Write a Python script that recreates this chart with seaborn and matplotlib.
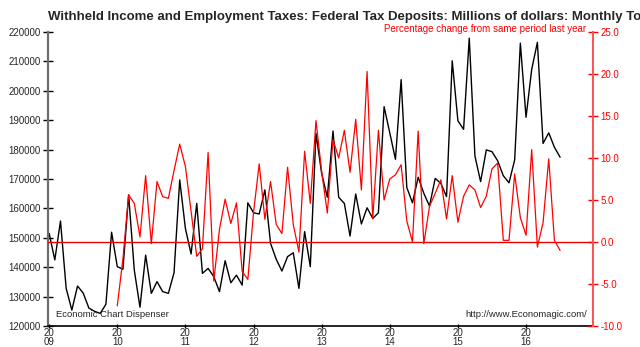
import numpy as np
import pandas as pd
import matplotlib
matplotlib.use("Agg")
import matplotlib.pyplot as plt
import seaborn as sns

# Monthly withheld income and employment tax deposits, Jan 2009 - Jul 2016 (millions of dollars)
deposits = [
    151500, 142500, 155700, 132800, 125400, 133600, 131200, 126100, 125000, 124300, 127400, 151900,
    140200, 139300, 164600, 139000, 126400, 144100, 131100, 135100, 131700, 131100, 138100, 169700,
    153200, 144500, 161700, 137900, 139600, 136800, 131700, 142200, 134700, 137300, 133900, 161900,
    158500, 158100, 166300, 148100, 142700, 138700, 143600, 144900, 132800, 152100, 140200, 185500,
    171900, 163800, 186300, 163800, 161700, 150600, 164900, 154700, 160200, 156600, 158500, 194600,
    185700, 176700, 203800, 167100, 161900, 170600, 165100, 160800, 170200, 168500, 164000, 210200,
    189800, 186900, 217900, 177800, 169100, 179900, 179300, 176200, 171100, 168700, 176500, 216200,
    191000, 207300, 216500, 182100, 185700, 180800, 177400,
]

# Percentage change from same month a year earlier, Jan 2010 - Jul 2016
pct_change = [
    -7.6, -2.0, 5.6, 4.6, 0.6, 7.9, -0.2, 7.2, 5.4, 5.2, 8.5, 11.65,
    9.0, 3.65, -1.7, -0.8, 10.65, -4.65, 1.5, 5.1, 2.2, 4.65, -3.5, -4.45,
    3.5, 9.3, 2.7, 7.2, 2.1, 1.0, 8.9, 2.1, -1.2, 10.8, 4.6, 14.45,
    8.4, 3.45, 12.2, 10.0, 13.3, 8.3, 14.6, 6.2, 20.3, 2.75, 13.3, 5.0,
    7.5, 8.0, 9.2, 2.5, 0.0, 13.2, -0.2, 4.25, 5.8, 7.4, 2.75, 7.9,
    2.35, 5.45, 6.8, 6.2, 4.1, 5.45, 8.7, 9.4, 0.2, 0.2, 8.1, 2.9,
    0.8, 11.0, -0.6, 2.3, 9.9, 0.2, -1.0,
]

years = list(range(2009, 2017))
year_labels = [f"{str(y)[:2]}\n{str(y)[2:]}" for y in years]
left_ticks = list(range(120000, 220001, 10000))
right_ticks = [-10.0, -5.0, 0.0, 5.0, 10.0, 15.0, 20.0, 25.0]

df_dep = pd.DataFrame({"month": np.arange(len(deposits)), "value": deposits})
df_pct = pd.DataFrame({"month": np.arange(12, 12 + len(pct_change)), "value": pct_change})

sns.set_style("white")
plt.rcParams["font.family"] = ["Liberation Sans", "DejaVu Sans"]

fig = plt.figure(figsize=(6.4, 3.47), dpi=100)
ax = fig.add_axes([0.075, 0.0605, 0.8516, 0.8473])
ax2 = ax.twinx()

sns.lineplot(data=df_dep, x="month", y="value", ax=ax, color="black", lw=1.0)
ax2.axhline(0, color="#ee0000", lw=1.0)
sns.lineplot(data=df_pct, x="month", y="value", ax=ax2, color="#ff0000", lw=0.9)

ax.set_xlim(-0.2, 95.8)
ax.set_ylim(120000, 220000)
ax2.set_ylim(-10, 25)

ax.set_xticks([12 * i for i in range(len(years))])
ax.set_xticklabels(year_labels, fontsize=7, linespacing=0.85)
ax.set_yticks(left_ticks)
ax.set_yticklabels([str(v) for v in left_ticks], fontsize=7)
ax2.set_yticks(right_ticks)
ax2.set_yticklabels([f"{v:.1f}" for v in right_ticks], fontsize=7, color="#ff0000")

for a in (ax, ax2):
    a.set_xlabel("")
    a.set_ylabel("")
    a.spines["top"].set_visible(False)

ax.spines["left"].set_color("#6e6e6e")
ax.spines["left"].set_linewidth(1.6)
ax.spines["bottom"].set_color("black")
ax.spines["bottom"].set_linewidth(1.2)
ax.spines["right"].set_visible(False)
ax2.spines["left"].set_visible(False)
ax2.spines["bottom"].set_visible(False)
ax2.spines["right"].set_color("#ff5050")
ax2.spines["right"].set_linewidth(1.4)

ax.tick_params(axis="y", direction="inout", length=7, width=1, color="black", pad=2, left=True)
ax.tick_params(axis="x", direction="inout", length=3, width=1, color="black", pad=0, bottom=True)
ax2.tick_params(axis="y", direction="inout", length=7, width=1, color="#ff0000", pad=2, right=True)

fig.text(0.075, 0.951, "Withheld Income and Employment Taxes: Federal Tax Deposits: Millions of dollars: Monthly Total",
         fontsize=9.5, fontweight="bold", ha="left", va="center")
fig.text(0.916, 0.915, "Percentage change from same period last year",
         fontsize=7, color="#ff0000", ha="right", va="center")
ax.text(0.015, 0.025, "Economic Chart Dispenser", transform=ax.transAxes,
        fontsize=6.8, ha="left", va="bottom")
ax.text(0.99, 0.025, "http://www.Economagic.com/", transform=ax.transAxes,
        fontsize=6.8, ha="right", va="bottom")

fig.savefig("out.png", dpi=100)
